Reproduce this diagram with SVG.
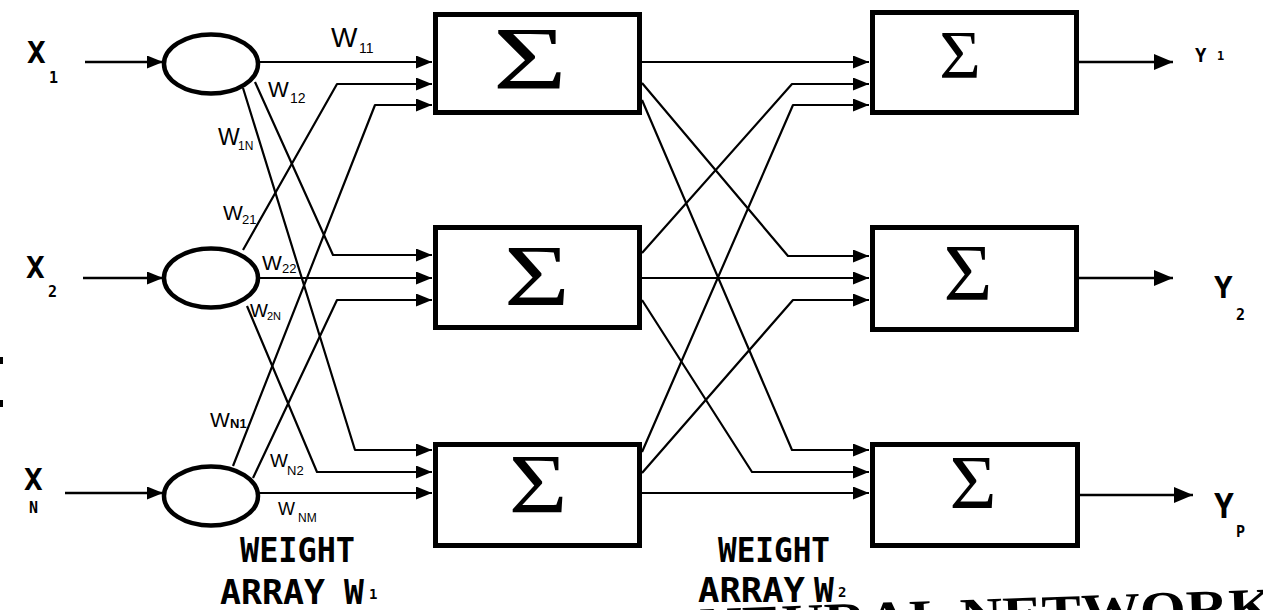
<svg xmlns="http://www.w3.org/2000/svg" width="1263" height="610" viewBox="0 0 1263 610">
<style>
.bg{fill:#fff}
.box{fill:#fff;stroke:#000;stroke-width:5}
.ell{fill:#fff;stroke:#000;stroke-width:4.5}
.ln{fill:none;stroke:#000;stroke-width:2.2;stroke-linejoin:round}
.in{fill:none;stroke:#000;stroke-width:2.6}
.sig{font-family:"Liberation Serif","DejaVu Serif",serif;fill:#000;text-anchor:middle}
.xl{font-family:"DejaVu Sans Mono","Liberation Mono",monospace;font-weight:bold;fill:#000}
.wl{font-family:"Liberation Sans","DejaVu Sans",sans-serif;fill:#000}
.lab{font-family:"DejaVu Sans Mono","Liberation Mono",monospace;font-weight:bold;fill:#000}
.big{font-family:"Liberation Serif","DejaVu Serif",serif;font-weight:bold;fill:#000}
</style>
<defs>
<marker id="ah" markerUnits="userSpaceOnUse" markerWidth="17" markerHeight="13" refX="16" refY="6.5" orient="auto">
<path d="M0,0 L16,6.5 L0,13 z" fill="#000"/>
</marker>
<marker id="ahb" markerUnits="userSpaceOnUse" markerWidth="20" markerHeight="16" refX="19" refY="8" orient="auto">
<path d="M0,0 L19,8 L0,16 z" fill="#000"/>
</marker>
</defs>
<rect class="bg" x="0" y="0" width="1263" height="610"/>

<g id="connectors">
<line class="in" x1="85" y1="62" x2="163" y2="62" marker-end="url(#ah)"/>
<line class="in" x1="83" y1="278" x2="163" y2="278" marker-end="url(#ah)"/>
<line class="in" x1="65" y1="493" x2="163" y2="493" marker-end="url(#ah)"/>
<polyline class="ln" points="259,62 432,62" marker-end="url(#ah)"/>
<polyline class="ln" points="255,82 333,255 432,255" marker-end="url(#ah)"/>
<polyline class="ln" points="243,88 355,450 432,450" marker-end="url(#ah)"/>
<polyline class="ln" points="243,250 337,84 432,84" marker-end="url(#ah)"/>
<polyline class="ln" points="259,278 432,278" marker-end="url(#ah)"/>
<polyline class="ln" points="247,306 317,472 432,472" marker-end="url(#ah)"/>
<polyline class="ln" points="233,466 375,105 432,105" marker-end="url(#ah)"/>
<polyline class="ln" points="253,478 337,300 432,300" marker-end="url(#ah)"/>
<polyline class="ln" points="259,493 432,493" marker-end="url(#ah)"/>
<polyline class="ln" points="642,62 869,62" marker-end="url(#ah)"/>
<polyline class="ln" points="642,83 788,256 869,256" marker-end="url(#ah)"/>
<polyline class="ln" points="642,100 792,450 869,450" marker-end="url(#ah)"/>
<polyline class="ln" points="642,253 792,84 869,84" marker-end="url(#ah)"/>
<polyline class="ln" points="642,278 869,278" marker-end="url(#ah)"/>
<polyline class="ln" points="642,300 752,472 869,472" marker-end="url(#ah)"/>
<polyline class="ln" points="642,452 793,105 869,105" marker-end="url(#ah)"/>
<polyline class="ln" points="642,473 793,300 869,300" marker-end="url(#ah)"/>
<polyline class="ln" points="642,493 869,493" marker-end="url(#ah)"/>
<line class="in" x1="1079" y1="62" x2="1173" y2="62" marker-end="url(#ahb)"/>
<line class="in" x1="1079" y1="278" x2="1173" y2="278" marker-end="url(#ahb)"/>
<line class="in" x1="1080" y1="495" x2="1193" y2="495" marker-end="url(#ahb)"/>
</g>

<g id="input-x1">
<text class="xl" x="27" y="63" font-size="31">X</text>
<text class="xl" x="49" y="83" font-size="15">1</text>
<ellipse class="ell" cx="211" cy="64" rx="47" ry="29.5"/>
</g>
<g id="input-x2">
<text class="xl" x="26" y="278" font-size="31">X</text>
<text class="xl" x="48" y="297" font-size="15">2</text>
<ellipse class="ell" cx="211" cy="278" rx="47" ry="29.5"/>
</g>
<g id="input-xn">
<text class="xl" x="24" y="490" font-size="31">X</text>
<text class="xl" x="29" y="513" font-size="15">N</text>
<ellipse class="ell" cx="211" cy="496" rx="47" ry="29.5"/>
</g>

<g id="weight-labels-1">
<text class="wl" x="331" y="47" font-size="28">W<tspan x="359" y="53" font-size="14">11</tspan></text>
<text class="wl" x="268" y="97" font-size="22">W<tspan x="290" y="103" font-size="14">12</tspan></text>
<text class="wl" x="218" y="145" font-size="23">W<tspan x="238" y="150" font-size="12">1N</tspan></text>
<text class="wl" x="223" y="220" font-size="21">W<tspan x="242" y="224" font-size="13">21</tspan></text>
<text class="wl" x="262" y="270" font-size="21">W<tspan x="282" y="273" font-size="13">22</tspan></text>
<text class="wl" x="250" y="317" font-size="19">W<tspan x="267" y="320" font-size="11">2N</tspan></text>
<text class="wl" x="210" y="427" font-size="21">W<tspan x="230" y="428" font-size="13" font-weight="bold">N1</tspan></text>
<text class="wl" x="270" y="467" font-size="19">W<tspan x="287" y="475" font-size="13">N2</tspan></text>
<text class="wl" x="278" y="515" font-size="18">W<tspan x="298" y="522" font-size="12">NM</tspan></text>
</g>

<g id="sum-1-1">
<rect class="box" x="435.5" y="14.5" width="204" height="98"/>
<text class="sig" transform="translate(530,88) scale(1.45,1)" font-size="88">Σ</text>
</g>
<g id="sum-1-2">
<rect class="box" x="435.5" y="227.5" width="204" height="100"/>
<text class="sig" transform="translate(537,305) scale(1.3,1)" font-size="87">Σ</text>
</g>
<g id="sum-1-3">
<rect class="box" x="435.5" y="444.5" width="204" height="101"/>
<text class="sig" transform="translate(538,513) scale(1.2,1)" font-size="84">Σ</text>
</g>
<g id="sum-2-1">
<rect class="box" x="872.5" y="12.5" width="204" height="100"/>
<text class="sig" transform="translate(960,77) scale(1.05,1)" font-size="68">Σ</text>
</g>
<g id="sum-2-2">
<rect class="box" x="872.5" y="227.5" width="204" height="102"/>
<text class="sig" transform="translate(968,300) scale(1.05,1)" font-size="80">Σ</text>
</g>
<g id="sum-2-3">
<rect class="box" x="872.5" y="444.5" width="205" height="101"/>
<text class="sig" transform="translate(973,508) scale(1.05,1)" font-size="77">Σ</text>
</g>

<g id="output-y1">
<text class="xl" x="1195" y="62" font-size="19">Y</text>
<text class="xl" x="1217" y="60" font-size="12">1</text>
</g>
<g id="output-y2">
<text class="xl" x="1214" y="298" font-size="31">Y</text>
<text class="xl" x="1236" y="320" font-size="15">2</text>
</g>
<g id="output-yp">
<text class="xl" x="1214" y="518" font-size="33">Y</text>
<text class="xl" x="1236" y="537" font-size="15">P</text>
</g>

<g id="array-label-1">
<text class="lab" x="240" y="562" font-size="34" textLength="115" lengthAdjust="spacingAndGlyphs">WEIGHT</text>
<text class="lab" x="220" y="604" font-size="33" textLength="105" lengthAdjust="spacingAndGlyphs">ARRAY</text>
<text class="lab" x="344" y="604" font-size="33">W</text>
<text class="lab" x="369" y="599" font-size="14">1</text>
</g>
<g id="array-label-2">
<text class="lab" x="718" y="562" font-size="34" textLength="112" lengthAdjust="spacingAndGlyphs">WEIGHT</text>
<text class="lab" x="698" y="602" font-size="33" textLength="107" lengthAdjust="spacingAndGlyphs">ARRAY</text>
<text class="lab" x="814" y="602" font-size="33">W</text>
<text class="lab" x="838" y="597" font-size="14">2</text>
</g>

<g id="caption">
<text class="big" x="700" y="634" font-size="52" transform="rotate(-2 970 634)" textLength="575" lengthAdjust="spacingAndGlyphs">NEURAL NETWORK</text>
</g>
<rect x="0" y="357" width="3" height="7" fill="#000"/>
<rect x="0" y="400" width="3" height="7" fill="#000"/>
</svg>
